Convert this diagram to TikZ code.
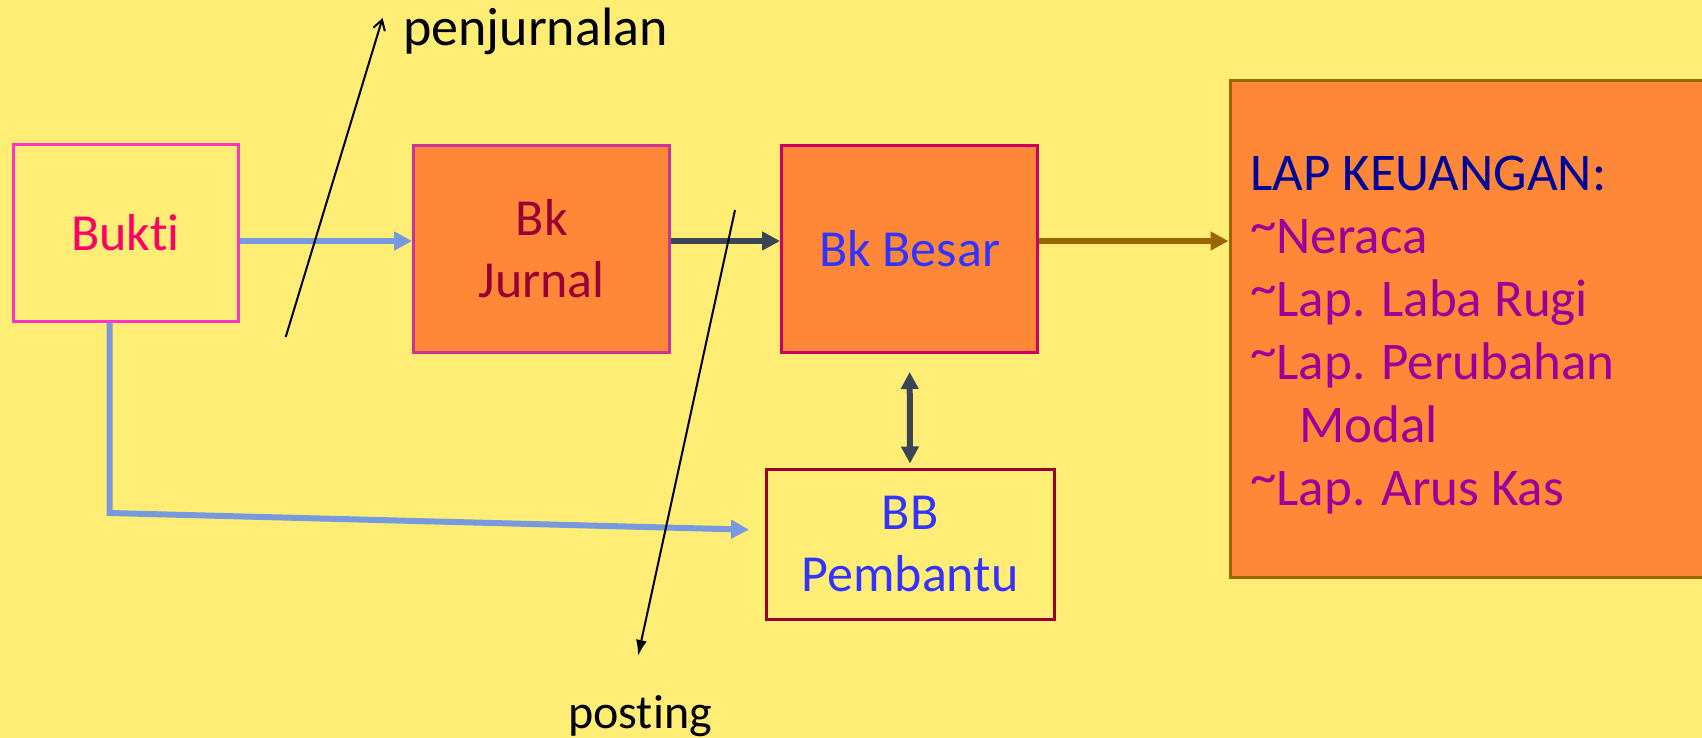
\documentclass[tikz,border=0pt]{standalone}
\usepackage{fontspec}
\setmainfont{Carlito}[Ligatures=NoCommon]
\usetikzlibrary{arrows.meta,calc}
\definecolor{bg}{HTML}{FFED75}
\definecolor{orangefill}{HTML}{FF8838}
\definecolor{buktiborder}{HTML}{FF33CC}
\definecolor{buktitext}{HTML}{FF0066}
\definecolor{jurnalborder}{HTML}{CC3399}
\definecolor{jurnaltext}{HTML}{990033}
\definecolor{besarborder}{HTML}{CC0066}
\definecolor{bluetext}{HTML}{3333FF}
\definecolor{bbborder}{HTML}{990033}
\definecolor{brown}{HTML}{996600}
\definecolor{navy}{HTML}{000099}
\definecolor{purpletext}{HTML}{990099}
\definecolor{lblue}{HTML}{7799DD}
\definecolor{slate}{HTML}{3B4558}
\newcommand{\mytilde}{\raisebox{0.2em}{\textasciitilde}}
\begin{document}
\begin{tikzpicture}[x=1pt,y=-1pt,
  box/.style={draw, line width=3pt, inner sep=0pt, align=center,
    font=\fontsize{52}{62}\selectfont},
  thickarrow/.style={line width=6pt, -{Triangle[length=18pt,width=18pt]}},
  thinline/.style={line width=2pt, black},
  lbl/.style={inner sep=0pt}]
\fill[bg] (0,0) rectangle (1702,738);
\useasboundingbox (0,0) rectangle (1702,738);

% boxes
\node[box, draw=buktiborder, text=buktitext, minimum width=225pt, minimum height=176pt]
  (bukti) at (125.5,233) {Bukti};
\node[box, draw=jurnalborder, fill=orangefill, text=jurnaltext, minimum width=256pt, minimum height=207pt]
  (jurnal) at (541.7,249) {Bk\\Jurnal};
\node[box, draw=besarborder, fill=orangefill, text=bluetext, minimum width=256pt, minimum height=207pt]
  (besar) at (909.6,249) {\raisebox{-3pt}{Bk Besar}};
\node[box, draw=bbborder, text=bluetext, minimum width=288pt, minimum height=150pt]
  (bbp) at (910,544) {BB\\Pembantu};
\node[box, draw=brown, fill=orangefill, minimum width=482pt, minimum height=497pt]
  (lap) at (1471,329) {};
\node[anchor=base west, inner sep=0pt, align=left, font=\fontsize{53}{63}\selectfont, text=purpletext]
  (laptext) at (1250,505)
  {\textcolor{navy}{LAP KEUANGAN:}\\
   \mytilde Neraca\\
   \mytilde Lap. Laba Rugi\\
   \mytilde Lap. Perubahan\\
   \hspace*{49pt}Modal\\
   \mytilde Lap. Arus Kas};

% main flow arrows
\coordinate (ay) at (0,241);
\draw[thickarrow, lblue] (bukti.east |- ay) -- (jurnal.west |- ay);
\draw[thickarrow, slate] (jurnal.east |- ay) -- (besar.west |- ay);
\draw[thickarrow, brown] (besar.east |- ay) -- (lap.west |- ay);

% double arrow
\draw[line width=6pt, slate, {Triangle[length=17pt,width=17pt]}-{Triangle[length=17pt,width=17pt]},
  shorten <=18pt, shorten >=4pt] (besar.south) -- (bbp.north);

% Bukti to BB Pembantu
\coordinate (elbow) at (109.6,513);
\coordinate (bbin) at (749,529.7);
\draw[thickarrow, lblue] (bukti.south -| elbow) -- (elbow) -- (bbin);

% penjurnalan
\coordinate (pj1) at (285.7,337);
\coordinate (pj2) at (382.6,18);
\draw[thinline, -{Straight Barb[length=10pt,width=12pt]}] (pj1) -- (pj2);
\node[lbl, anchor=base west, font=\fontsize{54}{60}\selectfont] (penj) at (403,46) {penjurnalan};

% posting
\coordinate (ps1) at (735,210);
\coordinate (ps2) at (638,656);
\draw[thinline, -{Latex[length=16pt,width=11pt]}] (ps1) -- (ps2);
\node[lbl, anchor=base west, font=\fontsize{48}{60}\selectfont] (post) at (568,728) {posting};
\end{tikzpicture}
\end{document}
